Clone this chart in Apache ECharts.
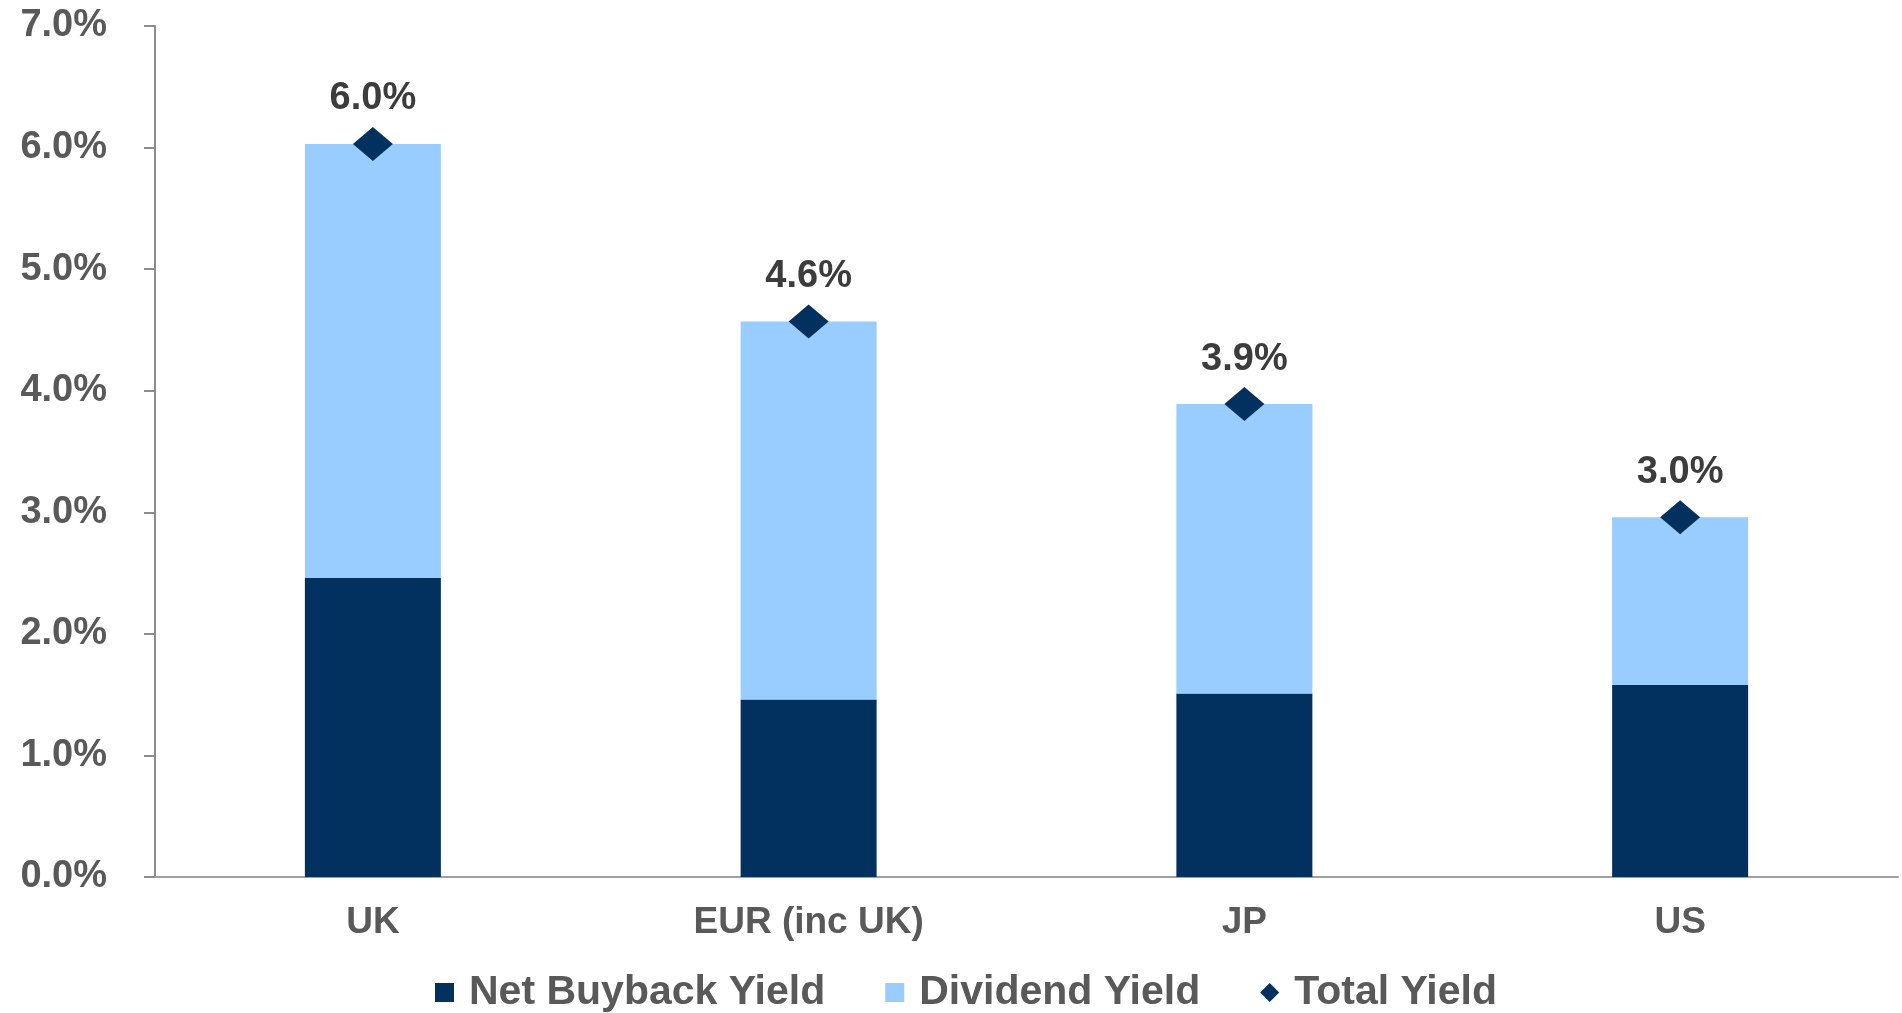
<!DOCTYPE html>
<html>
<head>
<meta charset="utf-8">
<title>Shareholder Yield by Region</title>
<script src="https://cdn.jsdelivr.net/npm/echarts@6/dist/echarts.min.js"></script>
<style>
  html, body { margin: 0; padding: 0; background: #ffffff; }
  #chart { width: 1902px; height: 1013px; }
</style>
</head>
<body>
<div id="chart"></div>
<script>
// Regions on the category axis
const regions = ['UK', 'EUR (inc UK)', 'JP', 'US'];
// Yield components, in percent
const netBuybackYield = [2.46, 1.46, 1.51, 1.58];
const dividendYield = [3.57, 3.11, 2.38, 1.38];
// Total yield, in percent (buyback + dividend)
const totalYield = [6.03, 4.57, 3.89, 2.96];
// Value axis range and step, in percent
const yMin = 0;
const yMax = 7;
const yStep = 1;

const FONT = '"Liberation Sans", Arial, sans-serif';
const DARK = '#03315f';
const LIGHT = '#99ccff';
const GREY_TEXT = '#595959';

const chart = echarts.init(document.getElementById('chart'), null, { renderer: 'canvas' });

chart.setOption({
  backgroundColor: '#ffffff',
  animation: false,
  grid: { left: 155, right: 4, top: 26, bottom: 136, containLabel: false },
  legend: {
    left: 430,
    top: 967,
    itemWidth: 19,
    itemHeight: 19,
    itemGap: 60,
    textStyle: { fontFamily: FONT, fontWeight: 'bold', fontSize: 41, color: GREY_TEXT, padding: [0, 0, 0, 10] },
    data: [
      { name: 'Net Buyback Yield', icon: 'rect' },
      { name: 'Dividend Yield', icon: 'rect' },
      { name: 'Total Yield', icon: 'diamond' }
    ]
  },
  xAxis: {
    type: 'category',
    data: regions,
    axisLine: { show: true, lineStyle: { color: '#a0a0a0', width: 2 } },
    axisTick: { show: false },
    axisLabel: { fontFamily: FONT, fontWeight: 'bold', fontSize: 37, color: GREY_TEXT, margin: 27 },
    splitLine: { show: false }
  },
  yAxis: {
    type: 'value',
    min: yMin,
    max: yMax,
    interval: yStep,
    axisLine: { show: true, lineStyle: { color: '#8c8c8c', width: 2 } },
    axisTick: { show: true, length: 11, lineStyle: { color: '#8c8c8c', width: 2 } },
    axisLabel: {
      fontFamily: FONT, fontWeight: 'bold', fontSize: 38, color: GREY_TEXT, margin: 48,
      formatter: v => v.toFixed(1) + '%'
    },
    splitLine: { show: false }
  },
  series: [
    {
      name: 'Net Buyback Yield',
      type: 'bar',
      stack: 'yield',
      barWidth: 136,
      itemStyle: { color: DARK },
      data: netBuybackYield
    },
    {
      name: 'Dividend Yield',
      type: 'bar',
      stack: 'yield',
      barWidth: 136,
      itemStyle: { color: LIGHT },
      data: dividendYield
    },
    {
      name: 'Total Yield',
      type: 'scatter',
      symbol: 'diamond',
      symbolSize: [40, 34],
      itemStyle: { color: DARK, opacity: 1 },
      z: 5,
      label: {
        show: true,
        position: 'top',
        distance: 9,
        fontFamily: FONT,
        fontWeight: 'bold',
        fontSize: 38,
        color: '#3c3c3c',
        formatter: p => p.value.toFixed(1) + '%'
      },
      data: totalYield
    }
  ]
});
</script>
</body>
</html>
